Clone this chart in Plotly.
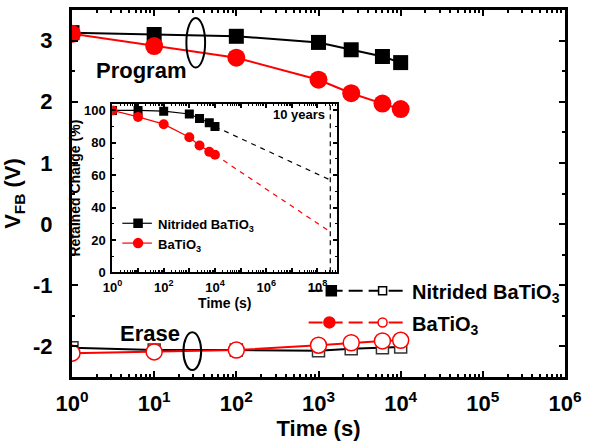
import numpy as np
import plotly.graph_objects as go

# ---- data -------------------------------------------------------------
time_s = [1, 10, 100, 1000, 2500, 6000, 10000]

# flat-band voltage after program / erase (V)
vfb_prog_nitrided = [3.13, 3.10, 3.07, 2.97, 2.85, 2.74, 2.64]
vfb_prog_batio3 = [3.11, 2.91, 2.72, 2.36, 2.14, 1.97, 1.88]
vfb_erase_nitrided = [-2.02, -2.06, -2.06, -2.07, -2.04, -2.02, -2.01]
vfb_erase_batio3 = [-2.11, -2.09, -2.06, -1.98, -1.94, -1.91, -1.90]

# retained charge (%) for the inset
ret_nitrided = [100, 100, 99.5, 97.8, 95.0, 92.4, 90.0]
ret_batio3 = [100, 96.0, 91.5, 83.4, 78.3, 74.4, 72.6]

ten_years_s = 3.1536e8
ret_10y_nitrided = 57
ret_10y_batio3 = 25

main_xticks = [10 ** k for k in range(0, 7)]
main_xticktext = [f"10<sup>{k}</sup>" for k in range(0, 7)]
main_yticks = [-2, -1, 0, 1, 2, 3]
main_yticktext = ["-2", "-1", "0", "1", "2", "3"]
inset_xticks = [10 ** k for k in range(0, 9)]
inset_xticktext = [f"10<sup>{k}</sup>" if k % 2 == 0 else "" for k in range(0, 9)]
inset_yticks = [0, 20, 40, 60, 80, 100]

RED = "#ff0000"
BLACK = "#000000"
FONT = "Liberation Sans, Arial, sans-serif"

W, H = 589, 446
ML, MR, MT, MB = 72, 17, 7, 69
PW, PH = W - ML - MR, H - MT - MB


def px(x):
    return (x - ML) / PW


def py(y):
    return (MT + PH - y) / PH


def minor_log(decades):
    return [m * 10 ** d for d in range(decades) for m in range(2, 10)]


fig = go.Figure()

# ---- main plot: program ----
fig.add_trace(go.Scatter(x=time_s, y=vfb_prog_nitrided, mode="lines+markers",
                         line=dict(color=BLACK, width=2),
                         marker=dict(symbol="square", size=15, color=BLACK),
                         showlegend=False))
fig.add_trace(go.Scatter(x=time_s, y=vfb_prog_batio3, mode="lines+markers",
                         line=dict(color=RED, width=2),
                         marker=dict(symbol="circle", size=18, color=RED),
                         showlegend=False))
# ---- main plot: erase ----
fig.add_trace(go.Scatter(x=time_s, y=vfb_erase_nitrided, mode="lines+markers",
                         line=dict(color=BLACK, width=2),
                         marker=dict(symbol="square", size=12, color="white",
                                     line=dict(color="#333333", width=1.5)),
                         showlegend=False))
fig.add_trace(go.Scatter(x=time_s, y=vfb_erase_batio3, mode="lines+markers",
                         line=dict(color=RED, width=2),
                         marker=dict(symbol="circle", size=16, color="white",
                                     line=dict(color=RED, width=1.5)),
                         showlegend=False))

# ---- inset ----
fig.add_trace(go.Scatter(x=[time_s[-1], ten_years_s], y=[ret_nitrided[-1], ret_10y_nitrided],
                         mode="lines", line=dict(color=BLACK, width=1.2, dash="5px,5px"),
                         xaxis="x2", yaxis="y2", showlegend=False))
fig.add_trace(go.Scatter(x=[time_s[-1], ten_years_s], y=[ret_batio3[-1], ret_10y_batio3],
                         mode="lines", line=dict(color=RED, width=1.2, dash="5px,5px"),
                         xaxis="x2", yaxis="y2", showlegend=False))
fig.add_trace(go.Scatter(x=[ten_years_s, ten_years_s], y=[0, 104],
                         mode="lines", line=dict(color=BLACK, width=1.2, dash="5px,4px"),
                         xaxis="x2", yaxis="y2", showlegend=False))
fig.add_trace(go.Scatter(x=time_s, y=ret_nitrided, mode="lines+markers",
                         line=dict(color=BLACK, width=1.2),
                         marker=dict(symbol="square", size=9, color=BLACK),
                         xaxis="x2", yaxis="y2", showlegend=False))
fig.add_trace(go.Scatter(x=time_s, y=ret_batio3, mode="lines+markers",
                         line=dict(color=RED, width=1.2),
                         marker=dict(symbol="circle", size=10, color=RED),
                         xaxis="x2", yaxis="y2", showlegend=False))

# ---- legend glyphs (drawn on a full-area helper axis) ----
def glyph_line(x0, x1, y, color, dash, width):
    fig.add_trace(go.Scatter(x=[px(x0), px(x1)], y=[py(y), py(y)], mode="lines",
                             line=dict(color=color, width=width, dash=dash),
                             xaxis="x3", yaxis="y3", showlegend=False, hoverinfo="skip"))


def glyph_marker(x, y, symbol, size, fill, edge):
    fig.add_trace(go.Scatter(x=[px(x)], y=[py(y)], mode="markers",
                             marker=dict(symbol=symbol, size=size, color=fill,
                                         line=dict(color=edge, width=1.5)),
                             xaxis="x3", yaxis="y3", showlegend=False, hoverinfo="skip"))


glyph_line(312, 410, 290, BLACK, "14px,6px", 2)
glyph_marker(335, 290, "square", 10, BLACK, BLACK)
glyph_marker(387, 290, "square", 8, "white", BLACK)
glyph_line(312, 410, 322, RED, "14px,6px", 2)
glyph_marker(333, 322, "circle", 11, RED, RED)
glyph_marker(387, 322, "circle", 9, "white", RED)

glyph_line(123, 153, 222, BLACK, "solid", 1.2)
glyph_marker(139, 222, "square", 8, BLACK, BLACK)
glyph_line(123, 153, 242, RED, "solid", 1.2)
glyph_marker(139, 242, "circle", 9, RED, RED)

bold = dict(family=FONT, color=BLACK, weight="bold")

axis_common = dict(showgrid=False, zeroline=False, showline=True, linecolor=BLACK,
                   mirror="ticks", ticks="inside", tickcolor=BLACK)

fig.update_layout(
    width=W, height=H,
    margin=dict(l=ML, r=MR, t=MT, b=MB),
    paper_bgcolor="white", plot_bgcolor="rgba(0,0,0,0)",
    showlegend=False,
    xaxis=dict(**axis_common, type="log", range=[0, 6], linewidth=3,
               tickmode="array", tickvals=main_xticks, ticktext=main_xticktext,
               ticklen=6, tickwidth=2, ticklabelstandoff=5,
               minor=dict(ticks="inside", tickmode="array", tickvals=minor_log(6),
                          ticklen=3, tickwidth=1.5, tickcolor=BLACK),
               tickfont=dict(**bold, size=22),
               title=dict(text="Time (s)", font=dict(**bold, size=22), standoff=2)),
    yaxis=dict(**axis_common, range=[-2.5, 3.5], linewidth=3,
               tickmode="array", tickvals=main_yticks, ticktext=main_yticktext,
               ticklen=6, tickwidth=2, ticklabelstandoff=12,
               minor=dict(ticks="inside", dtick=0.5, ticklen=3, tickwidth=1.5, tickcolor=BLACK),
               tickfont=dict(**bold, size=22),
               title=dict(text="V<sub>FB</sub> (V)", font=dict(**bold, size=22), standoff=10)),
    xaxis2=dict(**axis_common, type="log", range=[0, 8.77], linewidth=2,
                domain=[px(113), px(341)], anchor="y2",
                tickmode="array", tickvals=inset_xticks, ticktext=inset_xticktext,
                ticklen=4, tickwidth=1.5, ticklabelstandoff=2,
                minor=dict(ticks="inside", tickmode="array", tickvals=minor_log(9),
                           ticklen=2, tickwidth=1, tickcolor=BLACK),
                tickfont=dict(**bold, size=13),
                title=dict(text="Time (s)", font=dict(**bold, size=14), standoff=0)),
    yaxis2=dict(**axis_common, range=[0, 104], linewidth=2,
                domain=[py(271.5), py(101.7)], anchor="x2",
                tickmode="array", tickvals=inset_yticks,
                ticklen=4, tickwidth=1.5, ticklabelstandoff=2,
                minor=dict(ticks="inside", dtick=10, ticklen=2, tickwidth=1, tickcolor=BLACK),
                tickfont=dict(**bold, size=13),
                title=dict(text="Retained Charge (%)", font=dict(**bold, size=14), standoff=0)),
    xaxis3=dict(domain=[0, 1], range=[0, 1], visible=False, anchor="y3", fixedrange=True),
    yaxis3=dict(domain=[0, 1], range=[0, 1], visible=False, anchor="x3", fixedrange=True),
)

# ellipses marking the program / erase groups
for y_top, y_bot, x_l, x_r in [(15, 65, 188, 207), (332, 370, 185, 203)]:
    fig.add_shape(type="circle", xref="paper", yref="paper",
                  x0=px(x_l), x1=px(x_r), y0=py(y_bot), y1=py(y_top),
                  line=dict(color=BLACK, width=2))


def label(text, x, y, size, xanchor="left"):
    fig.add_annotation(text=text, xref="paper", yref="paper", x=px(x), y=py(y),
                       xanchor=xanchor, yanchor="middle", showarrow=False,
                       font=dict(**bold, size=size))


label("Program", 94, 68, 22)
label("Erase", 119, 333, 22)
label("Nitrided BaTiO<sub>3</sub>", 415, 293, 20)
label("BaTiO<sub>3</sub>", 415, 325, 20)
label("10 years", 331, 112, 13, xanchor="right")
label("Nitrided BaTiO<sub>3</sub>", 157, 224, 13)
label("BaTiO<sub>3</sub>", 157, 244, 13)

fig.write_html("out.html")
